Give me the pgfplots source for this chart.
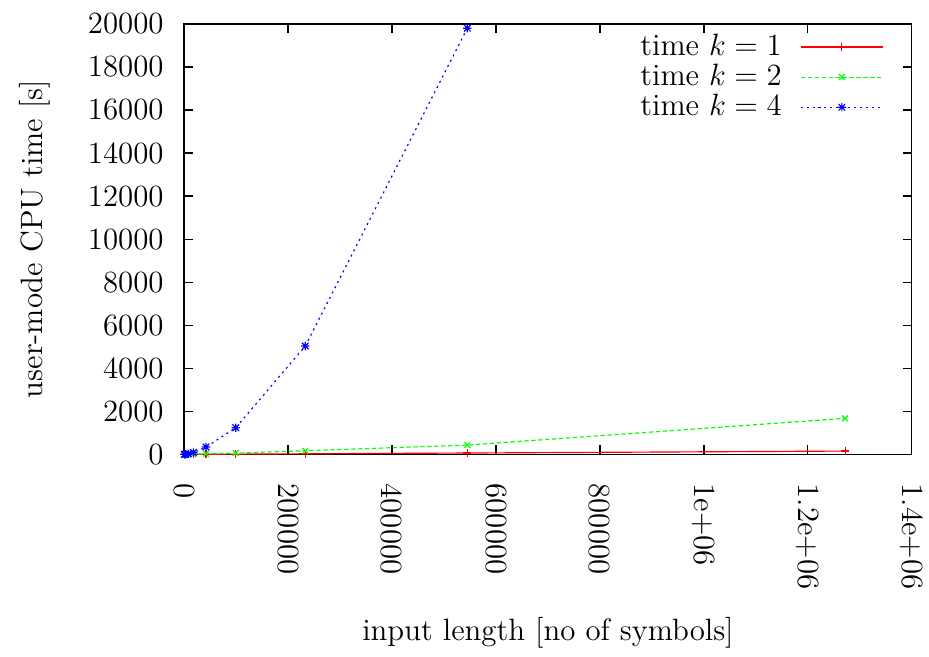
\documentclass[border=0pt,12pt]{standalone}
\usepackage{pgfplots}
\pgfplotsset{compat=1.18}
\pgfdeclareplotmark{gpstar}{%
  \pgfpathmoveto{\pgfqpoint{-\pgfplotmarksize}{0pt}}%
  \pgfpathlineto{\pgfqpoint{\pgfplotmarksize}{0pt}}%
  \pgfpathmoveto{\pgfqpoint{0pt}{-\pgfplotmarksize}}%
  \pgfpathlineto{\pgfqpoint{0pt}{\pgfplotmarksize}}%
  \pgfpathmoveto{\pgfqpoint{-0.8\pgfplotmarksize}{-0.8\pgfplotmarksize}}%
  \pgfpathlineto{\pgfqpoint{0.8\pgfplotmarksize}{0.8\pgfplotmarksize}}%
  \pgfpathmoveto{\pgfqpoint{-0.8\pgfplotmarksize}{0.8\pgfplotmarksize}}%
  \pgfpathlineto{\pgfqpoint{0.8\pgfplotmarksize}{-0.8\pgfplotmarksize}}%
  \pgfusepathqstroke}
\begin{document}
\begin{tikzpicture}
\path (-71.6pt,-78.8pt) rectangle (289.7pt,176.7pt);
\begin{axis}[
  scale only axis,
  width=283.0pt, height=167.4pt,
  xmin=0, xmax=1400000, ymin=0, ymax=20000,
  axis line style={line width=0.5pt},
  tick style={black, line width=0.5pt},
  major tick length=3.5pt,
  tick align=inside,
  xtick pos=both, ytick pos=both,
  xtick={0,200000,400000,600000,800000,1000000,1200000,1400000},
  xticklabels={0,200000,400000,600000,800000,1e+06,1.2e+06,1.4e+06},
  ytick={0,2000,...,20000},
  scaled x ticks=false, scaled y ticks=false,
  /pgf/number format/1000 sep={},
  xticklabel style={rotate=-90, anchor=west, inner sep=0pt},
  xticklabel shift=11.2pt,
  yticklabel style={anchor=east},
  yticklabel shift=3.8pt,
  every axis x label/.style={at={(axis description cs:0.5,-0.4153)}, anchor=center, inner sep=0pt},
  every axis y label/.style={at={(axis description cs:-0.2049,0.5)}, rotate=90, anchor=center},
  xlabel={input length [no of symbols]},
  ylabel={user-mode CPU time [s]},
  legend plot pos=right,
  legend cell align=right,
  legend style={draw=none, fill=none, at={(axis description cs:0.962,0.984)}, anchor=north east,
    inner sep=0pt, row sep=-0.4pt, column sep=6.2pt, nodes={inner sep=1pt}},
  every axis plot/.append style={line width=0.45pt, mark size=1.6pt},
]
\addplot[red, solid, mark=+, mark options={solid},
  legend image code/.code={\draw[red,line width=0.45pt] (0pt,0pt) -- (32pt,0pt); \draw[red, line width=0.45pt] plot[mark=+, mark size=1.6pt] coordinates {(16pt,0pt)};}]
  coordinates {(600,0.06) (1400,0.15) (3300,0.35) (7700,0.8) (18000,2) (42100,4.5) (99300,11) (233200,26) (544900,62) (1271700,153)};
\addlegendentry{time $k=1$}
\addplot[green, dash pattern=on 1.7pt off 1pt, mark=x, mark options={solid},
  legend image code/.code={\draw[green,line width=0.45pt,dash pattern=on 1.7pt off 1pt] (0pt,0pt) -- (32pt,0pt); \draw[green, line width=0.45pt] plot[mark=x, mark size=1.6pt] coordinates {(16pt,0pt)};}]
  coordinates {(600,0.2) (1400,0.6) (3300,1.5) (7700,4) (18000,10) (42100,25) (99300,60) (233200,167) (544900,432) (1271700,1673)};
\addlegendentry{time $k=2$}
\addplot[blue, dash pattern=on 0.8pt off 1.5pt, mark=gpstar, mark options={solid},
  legend image code/.code={\draw[blue,line width=0.45pt,dash pattern=on 0.8pt off 1.5pt] (0pt,0pt) -- (32pt,0pt); \draw[blue, line width=0.45pt] plot[mark=gpstar, mark size=1.6pt] coordinates {(16pt,0pt)};}]
  coordinates {(600,0.4) (1400,1.5) (3300,6) (7700,25) (18000,90) (42100,340) (99300,1236) (233200,5034) (544900,19800)};
\addlegendentry{time $k=4$}
\end{axis}
\end{tikzpicture}
\end{document}
